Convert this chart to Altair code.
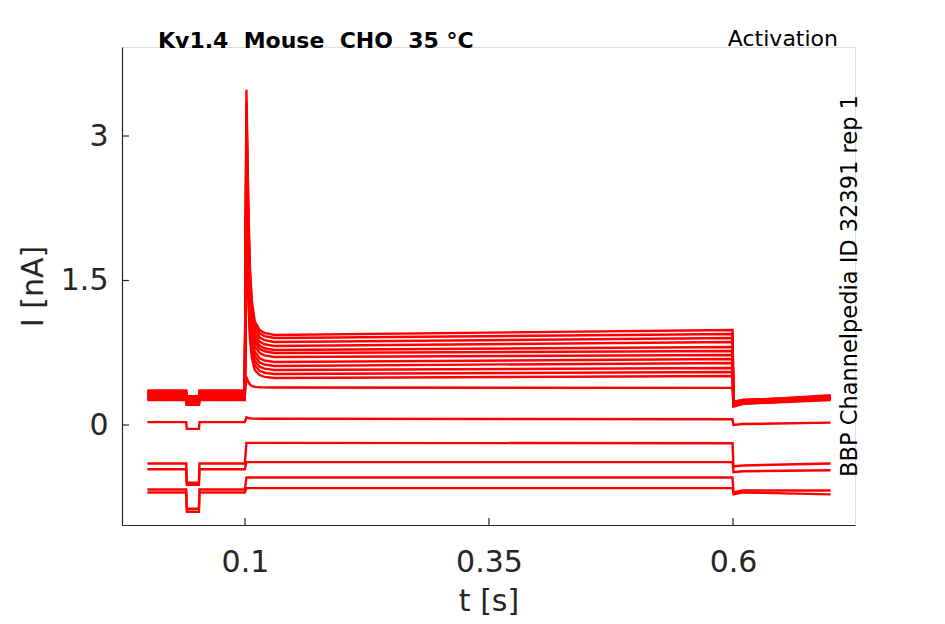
import altair as alt
import pandas as pd

# ---- values ----
# per-sweep levels (nA), 18 sweeps ordered by current during the step
hold = [-0.70, -0.67, -0.46, -0.40, 0.03, 0.30, 0.33, 0.27, 0.35, 0.29, 0.32, 0.26, 0.34, 0.30, 0.28, 0.36, 0.31, 0.33]
dip = [-0.90, -0.87, -0.62, -0.60, -0.04, 0.24, 0.27, 0.21, 0.29, 0.23, 0.26, 0.21, 0.28, 0.24, 0.22, 0.30, 0.25, 0.27]
peak = [-0.655, -0.545, -0.385, -0.185, 0.08, 0.50, 2.0, 2.15, 2.3, 2.45, 2.6, 2.75, 2.9, 3.0, 3.1, 3.2, 3.35, 3.48]
early = [-0.655, -0.545, -0.385, -0.185, 0.065, 0.39, 0.488, 0.530, 0.571, 0.613, 0.654, 0.706, 0.748, 0.779, 0.820, 0.862, 0.903, 0.935]
late = [-0.655, -0.545, -0.385, -0.19, 0.06, 0.385, 0.509, 0.55, 0.592, 0.644, 0.685, 0.727, 0.768, 0.81, 0.862, 0.903, 0.945, 0.987]
tail_start = [-0.72, -0.70, -0.49, -0.43, 0.00, 0.19, 0.20, 0.20, 0.21, 0.21, 0.21, 0.22, 0.22, 0.22, 0.23, 0.23, 0.24, 0.24]
tail_mid = [-0.70, -0.68, -0.48, -0.42, 0.01, 0.22, 0.22, 0.23, 0.23, 0.23, 0.24, 0.24, 0.24, 0.25, 0.25, 0.25, 0.26, 0.26]
tail_end = [-0.72, -0.68, -0.47, -0.40, 0.025, 0.27, 0.26, 0.28, 0.27, 0.29, 0.28, 0.30, 0.27, 0.29, 0.28, 0.31, 0.29, 0.30]

# times (s) of the protocol landmarks
hold_times = [0.0, 0.0398]
dip_times = [0.0404, 0.0528]
rehold_times = [0.0534, 0.0998]
# transient after step onset: times and remaining fraction of the peak excess
decay_t = [0.1015, 0.1025, 0.1035, 0.105, 0.107, 0.110, 0.115, 0.120, 0.130]
decay_f = [1.0, 0.75, 0.52, 0.28, 0.14, 0.055, 0.02, 0.008, 0.0]
late_t = 0.5995
tail_t = [0.6005, 0.61, 0.70]

xtick_values = [0.1, 0.35, 0.6]
ytick_values = [0, 1.5, 3]
title_left = "Kv1.4\u00a0\u00a0Mouse\u00a0\u00a0CHO\u00a0\u00a035\u00a0°C"
title_right = "Activation"
side_text = "BBP Channelpedia ID 32391 rep 1"

rows = []
for i in range(len(hold)):
    pts = []
    for t in hold_times:
        pts.append((t, hold[i]))
    for t in dip_times:
        pts.append((t, dip[i]))
    for t in rehold_times:
        pts.append((t, hold[i]))
    for t, f in zip(decay_t, decay_f):
        pts.append((t, early[i] + (peak[i] - early[i]) * f))
    pts.append((late_t, late[i]))
    for t, v in zip(tail_t, [tail_start[i], tail_mid[i], tail_end[i]]):
        pts.append((t, v))
    for k, (t, v) in enumerate(pts):
        rows.append({"sweep": i, "k": k, "t": t, "I": v})
df = pd.DataFrame(rows)

W, H = 733, 478
AX = "#262626"
FONT = "DejaVu Sans"

xscale = alt.Scale(domain=[-0.026, 0.725], nice=False, zero=False)
yscale = alt.Scale(domain=[-1.038, 3.924], nice=False, zero=False)

lines = alt.Chart(df).mark_line(color="#ff0000", strokeWidth=2.4).encode(
    x=alt.X("t:Q", scale=xscale,
            axis=alt.Axis(values=xtick_values, format="~g", title="t [s]", ticks=False,
                          grid=False, domainColor=AX, domainWidth=1.2, labelColor=AX,
                          labelFont=FONT, labelFontSize=30, labelPadding=22,
                          titleFont=FONT, titleFontSize=30, titleFontWeight="normal",
                          titleColor=AX, titlePadding=9)),
    y=alt.Y("I:Q", scale=yscale,
            axis=alt.Axis(values=ytick_values, format="~g", title="I [nA]", ticks=False,
                          grid=False, domainColor=AX, domainWidth=1.2, labelColor=AX,
                          labelFont=FONT, labelFontSize=30, labelPadding=14,
                          titleFont=FONT, titleFontSize=30, titleFontWeight="normal",
                          titleColor=AX, titlePadding=12)),
    detail="sweep:N",
    order="k:Q",
)

yt = alt.Chart(pd.DataFrame({"v": ytick_values})).mark_rule(color=AX, strokeWidth=1.2).encode(
    y=alt.Y("v:Q", scale=yscale), x=alt.value(0), x2=alt.value(7))
xt = alt.Chart(pd.DataFrame({"v": xtick_values})).mark_rule(color=AX, strokeWidth=1.2).encode(
    x=alt.X("v:Q", scale=xscale), y=alt.value(H), y2=alt.value(H - 7))

t1 = alt.Chart(pd.DataFrame({"s": [title_left]})).mark_text(
    font=FONT, fontSize=22, fontWeight="bold", color="#000000", align="left", baseline="alphabetic"
).encode(text="s:N", x=alt.value(36), y=alt.value(1))
t2 = alt.Chart(pd.DataFrame({"s": [title_right]})).mark_text(
    font=FONT, fontSize=22, color="#000000", align="right", baseline="alphabetic"
).encode(text="s:N", x=alt.value(716), y=alt.value(-1))
t3 = alt.Chart(pd.DataFrame({"s": [side_text]})).mark_text(
    font=FONT, fontSize=22.5, color="#000000", align="center", baseline="alphabetic", angle=270
).encode(text="s:N", x=alt.value(735), y=alt.value(239))

chart = alt.layer(lines, yt, xt, t1, t2, t3).properties(
    width=W, height=H,
    padding={"left": 114, "top": 39, "right": 60, "bottom": 91},
    autosize=alt.AutoSizeParams(type="none"),
).configure_view(strokeOpacity=0, strokeWidth=0).configure(background="white")

chart.save("out.html", embed_options={"renderer": "svg", "actions": False})
